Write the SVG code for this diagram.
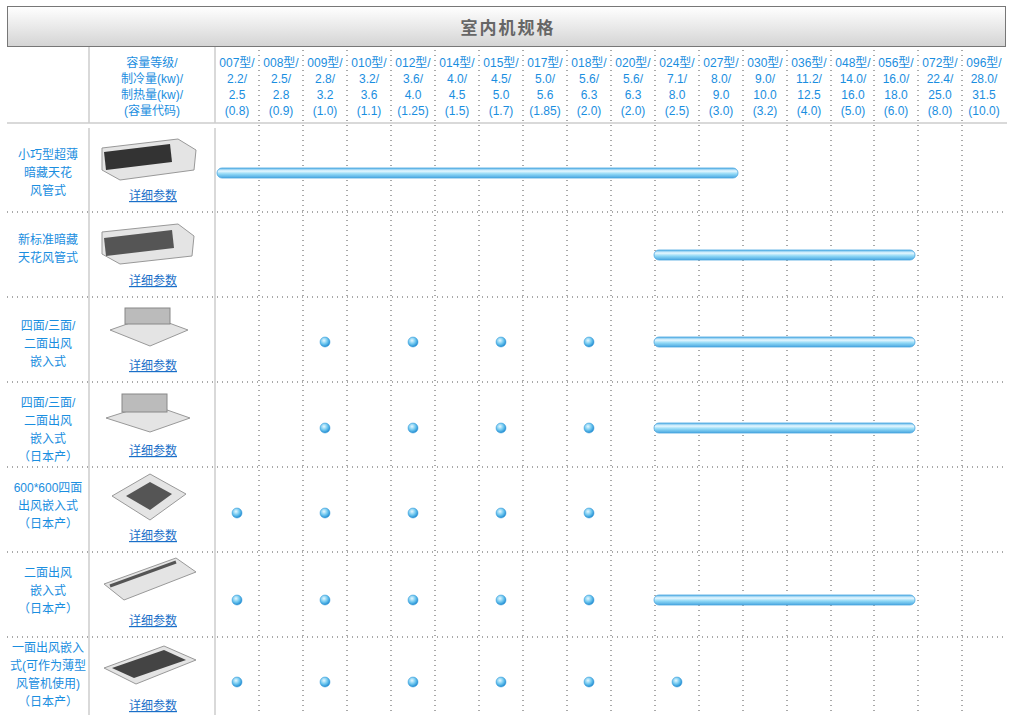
<svg xmlns="http://www.w3.org/2000/svg" width="1013" height="715" viewBox="0 0 1013 715">
<defs>
<linearGradient id="tg" x1="0" y1="0" x2="0" y2="1"><stop offset="0" stop-color="#ffffff"/><stop offset="1" stop-color="#d4d4d4"/></linearGradient>
<linearGradient id="bar" x1="0" y1="0" x2="0" y2="1"><stop offset="0" stop-color="#5ab4e8"/><stop offset="0.3" stop-color="#e8f8ff"/><stop offset="0.6" stop-color="#8fd8f6"/><stop offset="1" stop-color="#4aa6e0"/></linearGradient>
<radialGradient id="dot" cx="0.4" cy="0.35" r="0.6"><stop offset="0" stop-color="#e6f8ff"/><stop offset="0.6" stop-color="#6cc6ef"/><stop offset="1" stop-color="#2e95d6"/></radialGradient>
</defs>
<style>
text{font-family:"Liberation Sans","Noto Sans CJK SC",sans-serif;font-size:12px;fill:#1a8ee0;text-anchor:middle}
.t{font-size:17px;fill:#666;font-weight:bold;letter-spacing:2px}
.lk{text-decoration:underline;fill:#1a6fc8}
.dv{stroke:#555;stroke-width:1;stroke-dasharray:1 4}
.sl{stroke:#ccc;stroke-width:1.5}
.b{fill:url(#bar);stroke:#4aa6e0;stroke-width:0.8}
.d{fill:url(#dot);stroke:#2e95d6;stroke-width:0.5}
.u{fill:#e4e4e4;stroke:#999}
</style>
<rect width="1013" height="715" fill="#fff"/>
<g id="title"><rect x="7.5" y="6.5" width="998" height="40" fill="url(#tg)" stroke="#777"/><text class="t" x="508" y="34">室内机规格</text></g>
<g id="grid">
<line class="sl" x1="89" y1="47" x2="89" y2="123"/><line class="sl" x1="215" y1="47" x2="215" y2="123"/>
<line class="sl" x1="7" y1="123" x2="1007" y2="123"/>
<line class="sl" x1="89" y1="128" x2="89" y2="715"/><line class="sl" x1="215" y1="128" x2="215" y2="715"/>
<g class="dv">
<line x1="259" y1="50" x2="259" y2="715"/><line x1="303" y1="50" x2="303" y2="715"/><line x1="347" y1="50" x2="347" y2="715"/><line x1="391" y1="50" x2="391" y2="715"/><line x1="435" y1="50" x2="435" y2="715"/><line x1="479" y1="50" x2="479" y2="715"/><line x1="523" y1="50" x2="523" y2="715"/><line x1="567" y1="50" x2="567" y2="715"/><line x1="611" y1="50" x2="611" y2="715"/><line x1="655" y1="50" x2="655" y2="715"/><line x1="699" y1="50" x2="699" y2="715"/><line x1="743" y1="50" x2="743" y2="715"/><line x1="787" y1="50" x2="787" y2="715"/><line x1="831" y1="50" x2="831" y2="715"/><line x1="874" y1="50" x2="874" y2="715"/><line x1="918" y1="50" x2="918" y2="715"/><line x1="962" y1="50" x2="962" y2="715"/>
<line x1="7" y1="212" x2="1007" y2="212"/><line x1="7" y1="297" x2="1007" y2="297"/><line x1="7" y1="382" x2="1007" y2="382"/><line x1="7" y1="467" x2="1007" y2="467"/><line x1="7" y1="552" x2="1007" y2="552"/><line x1="7" y1="637" x2="1007" y2="637"/>
</g></g>
<g id="header">
<text x="152" y="67">容量等级/</text><text x="152" y="83">制冷量(kw)/</text><text x="152" y="99">制热量(kw)/</text><text x="152" y="115">(容量代码)</text>
<g transform="translate(237,0)"><text y="67">007型/</text><text y="83">2.2/</text><text y="99">2.5</text><text y="115">(0.8)</text></g>
<g transform="translate(281,0)"><text y="67">008型/</text><text y="83">2.5/</text><text y="99">2.8</text><text y="115">(0.9)</text></g>
<g transform="translate(325,0)"><text y="67">009型/</text><text y="83">2.8/</text><text y="99">3.2</text><text y="115">(1.0)</text></g>
<g transform="translate(369,0)"><text y="67">010型/</text><text y="83">3.2/</text><text y="99">3.6</text><text y="115">(1.1)</text></g>
<g transform="translate(413,0)"><text y="67">012型/</text><text y="83">3.6/</text><text y="99">4.0</text><text y="115">(1.25)</text></g>
<g transform="translate(457,0)"><text y="67">014型/</text><text y="83">4.0/</text><text y="99">4.5</text><text y="115">(1.5)</text></g>
<g transform="translate(501,0)"><text y="67">015型/</text><text y="83">4.5/</text><text y="99">5.0</text><text y="115">(1.7)</text></g>
<g transform="translate(545,0)"><text y="67">017型/</text><text y="83">5.0/</text><text y="99">5.6</text><text y="115">(1.85)</text></g>
<g transform="translate(589,0)"><text y="67">018型/</text><text y="83">5.6/</text><text y="99">6.3</text><text y="115">(2.0)</text></g>
<g transform="translate(633,0)"><text y="67">020型/</text><text y="83">5.6/</text><text y="99">6.3</text><text y="115">(2.0)</text></g>
<g transform="translate(677,0)"><text y="67">024型/</text><text y="83">7.1/</text><text y="99">8.0</text><text y="115">(2.5)</text></g>
<g transform="translate(721,0)"><text y="67">027型/</text><text y="83">8.0/</text><text y="99">9.0</text><text y="115">(3.0)</text></g>
<g transform="translate(765,0)"><text y="67">030型/</text><text y="83">9.0/</text><text y="99">10.0</text><text y="115">(3.2)</text></g>
<g transform="translate(809,0)"><text y="67">036型/</text><text y="83">11.2/</text><text y="99">12.5</text><text y="115">(4.0)</text></g>
<g transform="translate(853,0)"><text y="67">048型/</text><text y="83">14.0/</text><text y="99">16.0</text><text y="115">(5.0)</text></g>
<g transform="translate(896,0)"><text y="67">056型/</text><text y="83">16.0/</text><text y="99">18.0</text><text y="115">(6.0)</text></g>
<g transform="translate(940,0)"><text y="67">072型/</text><text y="83">22.4/</text><text y="99">25.0</text><text y="115">(8.0)</text></g>
<g transform="translate(984,0)"><text y="67">096型/</text><text y="83">28.0/</text><text y="99">31.5</text><text y="115">(10.0)</text></g>
</g>
<g id="row1"><text x="48" y="159">小巧型超薄</text><text x="48" y="177">暗藏天花</text><text x="48" y="195">风管式</text>
<path class="u" d="M102 148 L178 139 L196 150 L194 170 L120 180 L102 170 Z"/><path d="M104 152 L170 144 L172 162 L106 170 Z" fill="#333"/>
<text class="lk" x="153" y="200">详细参数</text><rect class="b" x="217" y="168" width="521" height="10" rx="5"/></g>
<g id="row2"><text x="48" y="244">新标准暗藏</text><text x="48" y="262">天花风管式</text>
<path class="u" d="M102 232 L178 224 L194 236 L192 256 L120 264 L102 254 Z"/><path d="M104 238 L172 230 L174 248 L106 256 Z" fill="#555"/>
<text class="lk" x="153" y="285">详细参数</text><rect class="b" x="654" y="250" width="261" height="10" rx="5"/></g>
<g id="row3"><text x="48" y="330">四面/三面/</text><text x="48" y="348">二面出风</text><text x="48" y="366">嵌入式</text>
<path class="u" d="M110 330 L150 316 L188 330 L150 346 Z"/><rect x="125" y="308" width="45" height="16" fill="#bbb" stroke="#888"/>
<text class="lk" x="153" y="370">详细参数</text>
<circle class="d" cx="325" cy="342" r="5"/><circle class="d" cx="413" cy="342" r="5"/><circle class="d" cx="501" cy="342" r="5"/><circle class="d" cx="589" cy="342" r="5"/>
<rect class="b" x="654" y="337" width="261" height="10" rx="5"/></g>
<g id="row4"><text x="48" y="407">四面/三面/</text><text x="48" y="425">二面出风</text><text x="48" y="443">嵌入式</text><text x="48" y="461">（日本产）</text>
<path class="u" d="M106 418 L150 404 L190 418 L150 432 Z"/><rect x="122" y="394" width="45" height="18" fill="#bbb" stroke="#888"/>
<text class="lk" x="153" y="455">详细参数</text>
<circle class="d" cx="325" cy="428" r="5"/><circle class="d" cx="413" cy="428" r="5"/><circle class="d" cx="501" cy="428" r="5"/><circle class="d" cx="589" cy="428" r="5"/>
<rect class="b" x="654" y="423" width="261" height="10" rx="5"/></g>
<g id="row5"><text x="48" y="492">600*600四面</text><text x="48" y="510">出风嵌入式</text><text x="48" y="528">（日本产）</text>
<path class="u" d="M112 496 L150 474 L186 494 L150 520 Z"/><path d="M126 496 L150 482 L172 494 L150 510 Z" fill="#555"/>
<text class="lk" x="153" y="540">详细参数</text>
<circle class="d" cx="237" cy="513" r="5"/><circle class="d" cx="325" cy="513" r="5"/><circle class="d" cx="413" cy="513" r="5"/><circle class="d" cx="501" cy="513" r="5"/><circle class="d" cx="589" cy="513" r="5"/></g>
<g id="row6"><text x="48" y="577">二面出风</text><text x="48" y="595">嵌入式</text><text x="48" y="613">（日本产）</text>
<path class="u" d="M104 584 L176 558 L196 572 L124 600 Z"/><path d="M110 586 L176 562" stroke="#555" stroke-width="3"/>
<text class="lk" x="153" y="625">详细参数</text>
<circle class="d" cx="237" cy="600" r="5"/><circle class="d" cx="325" cy="600" r="5"/><circle class="d" cx="413" cy="600" r="5"/><circle class="d" cx="501" cy="600" r="5"/><circle class="d" cx="589" cy="600" r="5"/>
<rect class="b" x="654" y="595" width="261" height="10" rx="5"/></g>
<g id="row7"><text x="48" y="652">一面出风嵌入</text><text x="48" y="670">式(可作为薄型</text><text x="48" y="688">风管机使用)</text><text x="48" y="706">（日本产）</text>
<path class="u" d="M104 668 L164 646 L196 660 L136 684 Z"/><path d="M112 668 L164 650 L186 660 L134 678 Z" fill="#444"/>
<text class="lk" x="153" y="710">详细参数</text>
<circle class="d" cx="237" cy="682" r="5"/><circle class="d" cx="325" cy="682" r="5"/><circle class="d" cx="413" cy="682" r="5"/><circle class="d" cx="501" cy="682" r="5"/><circle class="d" cx="589" cy="682" r="5"/><circle class="d" cx="677" cy="682" r="5"/></g>
</svg>
